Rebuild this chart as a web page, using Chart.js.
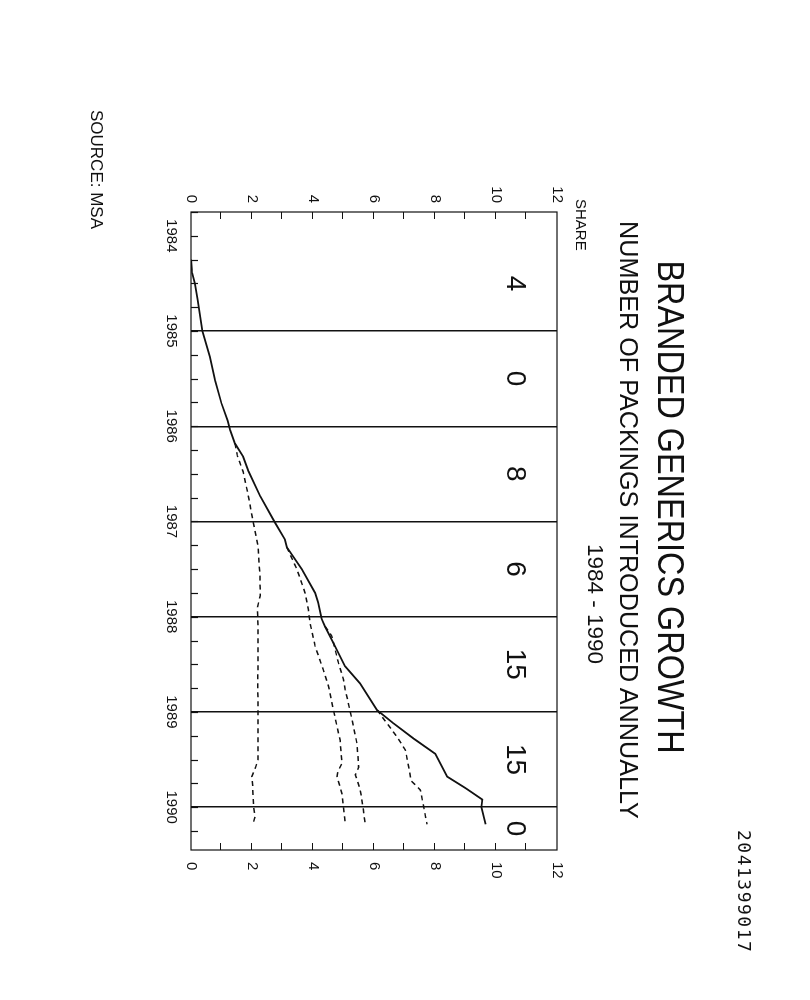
<!DOCTYPE html>
<html>
<head>
<meta charset="utf-8">
<script src="https://cdn.jsdelivr.net/npm/chart.js@4.4.1/dist/chart.umd.min.js"></script>
<style>
  html,body{margin:0;padding:0;background:#fff;}
  body{width:810px;height:1000px;overflow:hidden;position:relative;}
  #rot{position:absolute;left:0;top:0;width:1000px;height:810px;transform-origin:0 0;transform:translate(810px,0) rotate(90deg);}
  #c{position:absolute;left:0;top:0;}
  .t{position:absolute;white-space:nowrap;line-height:1;color:#111;font-family:"Liberation Sans",Arial,sans-serif;}
</style>
</head>
<body>
<div id="rot">
  <canvas id="c" width="1000" height="810"></canvas>
  <div class="t" style="left:507px;top:122px;font-size:36px;transform:translateX(-50%) scaleX(0.9);">BRANDED GENERICS GROWTH</div>
  <div class="t" style="left:520px;top:168px;font-size:26.5px;transform:translateX(-50%) scaleX(0.95);">NUMBER OF PACKINGS INTRODUCED ANNUALLY</div>
  <div class="t" style="left:604px;top:204px;font-size:22.5px;transform:translateX(-50%);">1984 - 1990</div>
  <div class="t" style="left:199px;top:221px;font-size:15px;">SHARE</div>
  <div class="t" style="left:110px;top:705px;font-size:17px;">SOURCE: MSA</div>
  <div class="t" style="left:830px;top:57px;font-size:18px;letter-spacing:1.5px;font-family:'DejaVu Sans Mono',monospace;">2041399017</div>
</div>
<script>
// ---- data ----
const years = [1984, 1985, 1986, 1987, 1988, 1989, 1990];
const packings = [4, 0, 8, 6, 15, 15, 0];

const totalYears = [1984.25,1984.39,1984.5,1984.67,1985.0,1985.27,1985.52,1985.76,1985.94,1986.04,1986.18,1986.32,1986.47,1986.73,1987.01,1987.19,1987.27,1987.5,1987.75,1987.85,1988.02,1988.1,1988.31,1988.52,1988.7,1988.98,1989.12,1989.28,1989.44,1989.68,1989.8,1989.92,1990.0,1990.18];
const totalShare = [0.0,0.04,0.13,0.22,0.37,0.62,0.79,1.0,1.2,1.28,1.44,1.71,1.88,2.26,2.75,3.08,3.14,3.63,4.07,4.17,4.28,4.39,4.72,5.05,5.54,6.1,6.64,7.3,8.01,8.4,9.0,9.55,9.52,9.66];

const d1Years = [1986.18,1986.31,1986.48,1986.73,1987.01,1987.26,1987.57,1987.78,1987.9,1988.2,1988.73,1989.04,1989.5,1989.58,1989.68,1989.75,1990.0,1990.1,1990.18];
const d1Share = [1.44,1.52,1.71,1.88,2.04,2.2,2.26,2.27,2.18,2.2,2.19,2.2,2.2,2.12,1.99,2.02,2.05,2.1,2.03];

const d2Years = [1987.27,1987.5,1987.75,1987.93,1988.06,1988.31,1988.56,1988.73,1988.98,1989.3,1989.54,1989.62,1989.68,1989.86,1990.0,1990.18];
const d2Share = [3.14,3.47,3.74,3.85,3.9,4.07,4.34,4.51,4.67,4.89,4.95,4.82,4.79,4.95,5.0,5.06];

const d3Years = [1988.1,1988.2,1988.49,1988.66,1988.77,1989.08,1989.33,1989.58,1989.66,1989.82,1990.0,1990.18];
const d3Share = [4.39,4.61,4.84,5.0,5.06,5.28,5.44,5.5,5.39,5.55,5.64,5.71];

const d4Years = [1988.98,1989.26,1989.4,1989.58,1989.72,1989.82,1990.0,1990.18];
const d4Share = [6.1,6.75,7.03,7.14,7.21,7.52,7.63,7.74];

// ---- chart ----
const FONT = '"Liberation Sans", Arial, sans-serif';
const INK = '#111';
const pts = (xs, ys) => xs.map((x, i) => ({x: x, y: ys[i]}));
const series = (xs, ys, dashed) => ({
  data: pts(xs, ys), borderColor: INK, borderWidth: dashed ? 1.5 : 1.8,
  borderDash: dashed ? [5, 4] : [], pointRadius: 0, tension: 0, fill: false
});

const countLevel = 10.7;

const framePlugin = {
  id: 'frame',
  afterDatasetsDraw(chart) {
    const {ctx, chartArea: a, scales} = chart;
    const x = scales.x, y = scales.y, y2 = scales.y2;
    ctx.save();
    ctx.strokeStyle = INK;
    ctx.lineWidth = 1.2;
    ctx.strokeRect(a.left, a.top, a.right - a.left, a.bottom - a.top);
    ctx.beginPath();
    x.ticks.forEach(t => {
      const q = t.value * 4;
      if (Math.abs(q - Math.round(q)) < 1e-6) {
        const px = Math.round(x.getPixelForValue(t.value)) + 0.5;
        ctx.moveTo(px, a.bottom); ctx.lineTo(px, a.bottom - 7);
      }
    });
    y.ticks.forEach(t => {
      if (t.value > y.min && t.value < y.max) {
        const py = Math.round(y.getPixelForValue(t.value)) + 0.5;
        ctx.moveTo(a.left, py); ctx.lineTo(a.left + 7, py);
      }
    });
    y2.ticks.forEach(t => {
      if (t.value > y2.min && t.value < y2.max) {
        const py = Math.round(y2.getPixelForValue(t.value)) + 0.5;
        ctx.moveTo(a.right, py); ctx.lineTo(a.right - 7, py);
      }
    });
    ctx.stroke();
    ctx.fillStyle = INK;
    const fs = 28;
    ctx.font = fs + 'px ' + FONT;
    ctx.textAlign = 'center';
    ctx.textBaseline = 'alphabetic';
    years.forEach((yr, i) => {
      const end = Math.min(yr + 1, x.max);
      const px = x.getPixelForValue((yr + end) / 2);
      const py = y.getPixelForValue(countLevel) + 0.358 * fs;
      ctx.fillText(String(packings[i]), px, py);
    });
    ctx.restore();
  }
};

const tickFont = {family: FONT, size: 15};

new Chart(document.getElementById('c'), {
  type: 'line',
  data: {
    datasets: [
      series(totalYears, totalShare, false),
      series(d1Years, d1Share, true),
      series(d2Years, d2Share, true),
      series(d3Years, d3Share, true),
      series(d4Years, d4Share, true)
    ]
  },
  options: {
    responsive: false,
    animation: false,
    devicePixelRatio: 1,
    layout: {padding: {top: 253, left: 0, right: 0, bottom: 0}},
    plugins: {legend: {display: false}, tooltip: {enabled: false}, title: {display: false}},
    scales: {
      x: {
        type: 'linear', min: 1983.75, max: 1990.45,
        ticks: {
          stepSize: 0.25, autoSkip: false, maxRotation: 0, minRotation: 0, includeBounds: false,
          callback: v => (Math.abs(v - Math.round(v)) < 1e-6 ? String(Math.round(v)) : ''),
          font: tickFont, color: INK, padding: 11
        },
        grid: {
          drawTicks: false, lineWidth: 1.5,
          color: c => (c.tick && Math.abs(c.tick.value - Math.round(c.tick.value)) < 1e-6 && c.tick.value >= 1985) ? INK : 'rgba(0,0,0,0)'
        },
        border: {display: false},
        afterFit: s => { s.height = 191; }
      },
      y: {
        type: 'linear', position: 'left', min: 0, max: 12,
        ticks: {stepSize: 1, autoSkip: false, callback: v => (v % 2 === 0 ? String(v) : ''), font: tickFont, color: INK, padding: 9},
        grid: {display: false, drawTicks: false},
        border: {display: false},
        afterFit: s => { s.width = 212; }
      },
      y2: {
        type: 'linear', position: 'right', min: 0, max: 12,
        ticks: {stepSize: 1, autoSkip: false, callback: v => (v % 2 === 0 ? String(v) : ''), font: tickFont, color: INK, padding: 12},
        grid: {display: false, drawTicks: false},
        border: {display: false},
        afterFit: s => { s.width = 150; }
      }
    }
  },
  plugins: [framePlugin]
});
</script>
</body>
</html>
